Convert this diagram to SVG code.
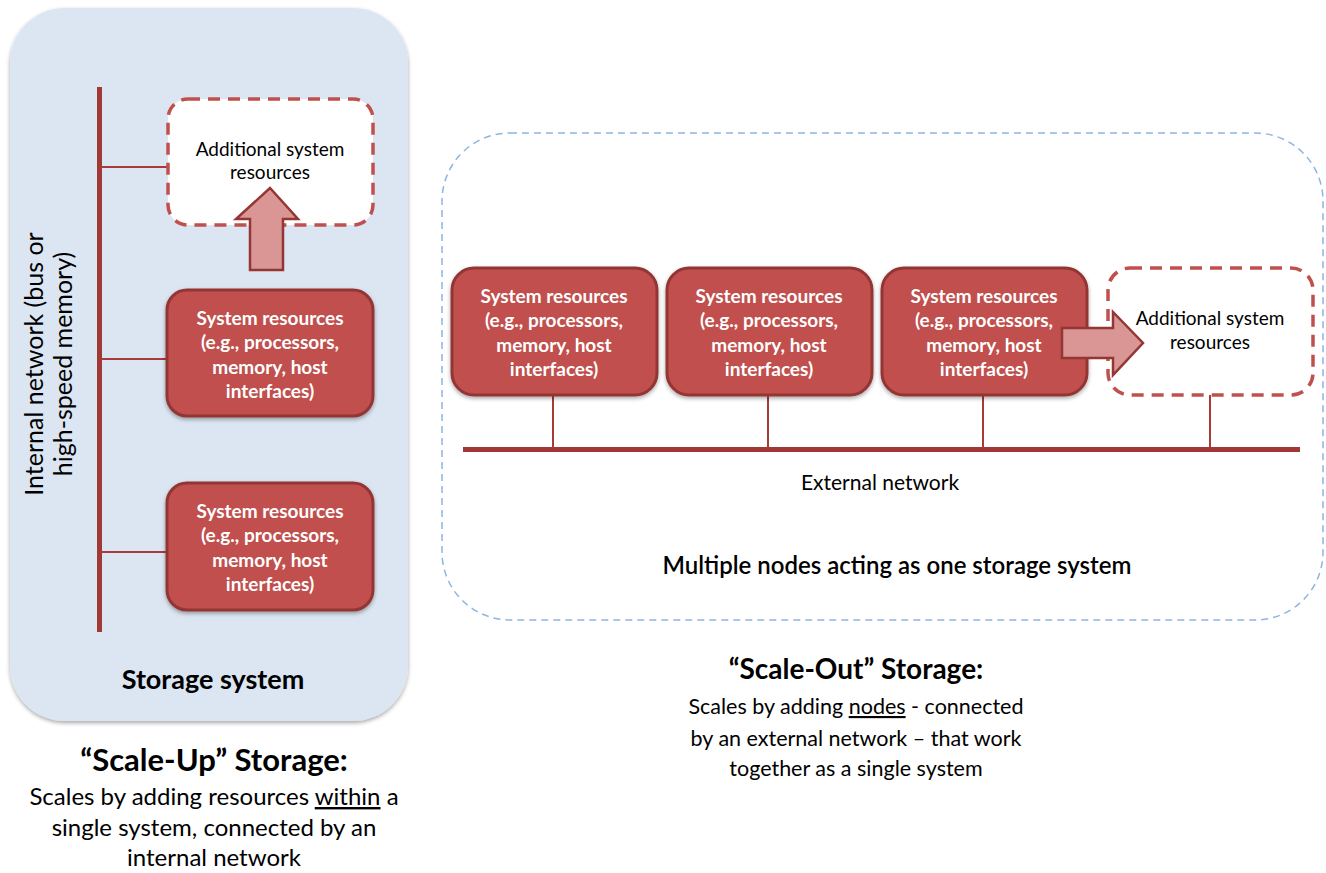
<svg xmlns="http://www.w3.org/2000/svg" width="1326" height="873" viewBox="0 0 1326 873">
<defs>
<style>
.t{font-family:Lato,"Liberation Sans",sans-serif;fill:#000;text-anchor:middle}
.w{font-family:Lato,"Liberation Sans",sans-serif;fill:#fff;font-weight:bold;font-size:19px;text-anchor:middle}
.box{fill:#c0504d;stroke:#943634;stroke-width:3}
.add{fill:#fff;stroke:#c0504d;stroke-width:3.5;stroke-dasharray:12 8}
.wire{stroke:#a83a38;stroke-width:2;fill:none}
.bus{stroke:#a03836;stroke-width:5;fill:none}
.arr{fill:#d99694;stroke:#943634;stroke-width:2.5}
</style>
<filter id="sh" x="-10%" y="-10%" width="120%" height="120%">
<feGaussianBlur in="SourceAlpha" stdDeviation="2"/>
<feOffset dx="0" dy="2"/>
<feComponentTransfer><feFuncA type="linear" slope="0.35"/></feComponentTransfer>
<feMerge><feMergeNode/><feMergeNode in="SourceGraphic"/></feMerge>
</filter>
</defs>
<rect width="1326" height="873" fill="#fff"/>

<!-- Left panel -->
<g id="scale-up-panel">
<rect x="10" y="8" width="398" height="713" rx="55" fill="#dce6f2" filter="url(#sh)"/>
<text class="t" x="0" y="0" font-size="25" transform="translate(43,364) rotate(-90)">Internal network (bus or</text>
<text class="t" x="0" y="0" font-size="25" transform="translate(72,364) rotate(-90)">high-speed memory)</text>
<text class="t" x="213" y="689" font-size="27" font-weight="bold">Storage system</text>
</g>

<!-- Right panel -->
<g id="scale-out-panel">
<rect x="442" y="133" width="881" height="487" rx="68" fill="none" stroke="#8eb4e3" stroke-width="1.5" stroke-dasharray="7 5"/>
<text class="t" x="880" y="490" font-size="21">External network</text>
<text class="t" x="897" y="574" font-size="24" font-weight="600">Multiple nodes acting as one storage system</text>
</g>

<!-- Connectors -->
<g id="connectors">
<line class="bus" x1="99.5" y1="87" x2="99.5" y2="632"/>
<line class="wire" x1="101" y1="167" x2="168" y2="167"/>
<line class="wire" x1="101" y1="359" x2="168" y2="359"/>
<line class="wire" x1="101" y1="552" x2="168" y2="552"/>
<line class="bus" x1="463" y1="449.5" x2="1300" y2="449.5"/>
<line class="wire" x1="553" y1="395" x2="553" y2="448"/>
<line class="wire" x1="768" y1="395" x2="768" y2="448"/>
<line class="wire" x1="983" y1="395" x2="983" y2="448"/>
<line class="wire" x1="1210" y1="395" x2="1210" y2="448"/>
</g>

<!-- Left nodes -->
<g id="up-additional">
<rect class="add" x="168" y="99" width="205" height="126" rx="20"/>
<text class="t" x="270" y="156" font-size="19">Additional system</text>
<text class="t" x="270" y="179" font-size="19">resources</text>
</g>
<g id="up-arrow">
<polygon class="arr" points="250,270 250,219 236,219 270,188 298,219 283,219 283,270"/>
</g>
<g id="up-node-1">
<rect class="box" x="167" y="290" width="206" height="126" rx="20" filter="url(#sh)"/>
<text class="w" x="270" y="325">System resources</text>
<text class="w" x="270" y="349">(e.g., processors,</text>
<text class="w" x="270" y="374">memory, host</text>
<text class="w" x="270" y="398">interfaces)</text>
</g>
<g id="up-node-2">
<rect class="box" x="167" y="483" width="206" height="127" rx="20" filter="url(#sh)"/>
<text class="w" x="270" y="518">System resources</text>
<text class="w" x="270" y="542">(e.g., processors,</text>
<text class="w" x="270" y="567">memory, host</text>
<text class="w" x="270" y="591">interfaces)</text>
</g>

<!-- Right nodes -->
<g id="out-node-1">
<rect class="box" x="452" y="268" width="205" height="127" rx="22" filter="url(#sh)"/>
<text class="w" x="554" y="303">System resources</text>
<text class="w" x="554" y="327">(e.g., processors,</text>
<text class="w" x="554" y="352">memory, host</text>
<text class="w" x="554" y="376">interfaces)</text>
</g>
<g id="out-node-2">
<rect class="box" x="667" y="268" width="205" height="127" rx="22" filter="url(#sh)"/>
<text class="w" x="769" y="303">System resources</text>
<text class="w" x="769" y="327">(e.g., processors,</text>
<text class="w" x="769" y="352">memory, host</text>
<text class="w" x="769" y="376">interfaces)</text>
</g>
<g id="out-node-3">
<rect class="box" x="882" y="268" width="205" height="127" rx="22" filter="url(#sh)"/>
<text class="w" x="984" y="303">System resources</text>
<text class="w" x="984" y="327">(e.g., processors,</text>
<text class="w" x="984" y="352">memory, host</text>
<text class="w" x="984" y="376">interfaces)</text>
</g>
<g id="out-additional">
<rect class="add" x="1108" y="268" width="205" height="127" rx="22"/>
<text class="t" x="1210" y="325" font-size="19">Additional system</text>
<text class="t" x="1210" y="349" font-size="19">resources</text>
</g>
<g id="out-arrow">
<polygon class="arr" points="1062,328 1113,328 1113,312 1143,343 1113,375 1113,358 1062,358"/>
</g>

<!-- Captions -->
<g id="scale-up-caption">
<text class="t" x="214" y="771" font-size="31" font-weight="bold">“Scale-Up” Storage:</text>
<text class="t" x="214" y="805" font-size="24">Scales by adding resources <tspan text-decoration="underline">within</tspan> a</text>
<text class="t" x="214" y="836" font-size="24">single system, connected by an</text>
<text class="t" x="214" y="866" font-size="24">internal network</text>
</g>
<g id="scale-out-caption">
<text class="t" x="856" y="679" font-size="28" font-weight="bold">“Scale-Out” Storage:</text>
<text class="t" x="856" y="714" font-size="21.5">Scales by adding <tspan text-decoration="underline">nodes</tspan> - connected</text>
<text class="t" x="856" y="746" font-size="21.5">by an external network – that work</text>
<text class="t" x="856" y="776" font-size="21.5">together as a single system</text>
</g>
</svg>
